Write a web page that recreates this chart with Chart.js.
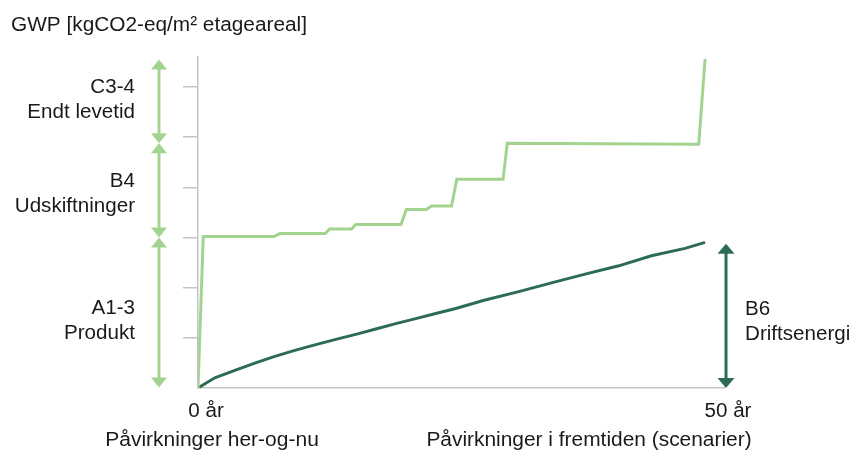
<!DOCTYPE html>
<html><head><meta charset="utf-8">
<script src="https://cdn.jsdelivr.net/npm/chart.js@4"></script>
<style>html,body{margin:0;padding:0;background:#fff}canvas{display:block}</style>
</head><body>
<canvas id="c" width="853" height="450"></canvas>
<script>
// ---- data (years on x, GWP on y) ----
const embodiedYears = [0, 0.5, 7.2, 7.8, 12.1, 12.5, 14.6, 15.0, 19.3, 19.8, 21.7, 22.2, 24.1, 24.6, 29.0, 29.4, 47.6, 48.2];
const embodiedGWP   = [0, 151, 151, 154, 154, 158.5, 158.5, 163, 163, 178, 178, 181.5, 181.5, 208, 208, 244, 243, 328];
const operationalYears = [0, 1.6, 3.5, 5.4, 7.3, 9.2, 11.2, 13.1, 15.0, 16.9, 18.8, 20.7, 22.6, 24.5, 27.2, 30.4, 33.6, 36.8, 40.0, 43.1, 46.3, 48.2];
const operationalGWP   = [0, 10.2, 17.5, 24.8, 31.5, 37.5, 43.2, 48.5, 53.5, 58.8, 64.2, 69.2, 74.2, 79.2, 87.5, 95.8, 104.8, 113.5, 121.8, 131.8, 139.2, 145.2];
const yTickValues = [50, 100, 150, 200, 250, 300];
const xTickLabels = ["0 år", "50 år"];
const titleText = "GWP [kgCO2-eq/m² etageareal]";
const phaseLabels = [["C3-4", "Endt levetid"], ["B4", "Udskiftninger"], ["A1-3", "Produkt"]];
const phaseBounds = [[327.5, 244], [244, 150], [150, 0.5]];
const operationalLabel = ["B6", "Driftsenergi"];
const bottomLabels = ["Påvirkninger her-og-nu", "Påvirkninger i fremtiden (scenarier)"];

const LIGHT = "rgb(163,212,143)";
const DARK = "rgb(44,107,84)";
const AXIS = "#c4c4c4";
const TEXT = "#1a1a1a";
const FONT = "20px 'Liberation Sans', Arial, sans-serif";
const SX = 1.03;

function arrow(ctx, x, yTop, yBot, color, hw, hh, lw) {
  ctx.save();
  ctx.strokeStyle = color; ctx.fillStyle = color; ctx.lineWidth = lw;
  ctx.beginPath(); ctx.moveTo(x, yTop + hh - 1); ctx.lineTo(x, yBot - hh + 1); ctx.stroke();
  ctx.beginPath(); ctx.moveTo(x, yTop); ctx.lineTo(x - hw / 2, yTop + hh); ctx.lineTo(x + hw / 2, yTop + hh); ctx.closePath(); ctx.fill();
  ctx.beginPath(); ctx.moveTo(x, yBot); ctx.lineTo(x - hw / 2, yBot - hh); ctx.lineTo(x + hw / 2, yBot - hh); ctx.closePath(); ctx.fill();
  ctx.restore();
}

function text(ctx, s, x, y, align, font, sx) {
  ctx.save();
  ctx.font = font; ctx.textAlign = align; ctx.textBaseline = 'alphabetic'; ctx.fillStyle = TEXT;
  ctx.translate(x, y); ctx.scale(sx, 1);
  ctx.fillText(s, 0, 0);
  ctx.restore();
}

const annotations = {
  id: 'annotations',
  afterDraw(chart) {
    const ctx = chart.ctx, xs = chart.scales.x, ys = chart.scales.y;
    text(ctx, titleText, 11, 31, 'left', "20px 'Liberation Sans', Arial, sans-serif", 1.04);
    // left phase arrows
    phaseBounds.forEach((b) => {
      arrow(ctx, 159, ys.getPixelForValue(b[0]), ys.getPixelForValue(b[1]), LIGHT, 16, 10, 3);
    });
    const phaseBase = [93, 187, 314];
    phaseLabels.forEach((lines, i) => {
      text(ctx, lines[0], 135, phaseBase[i], 'right', FONT, SX);
      text(ctx, lines[1], 135, phaseBase[i] + 25, 'right', FONT, SX);
    });
    // right operational arrow
    arrow(ctx, 726, ys.getPixelForValue(operationalGWP[operationalGWP.length - 1]) + 1.5, ys.getPixelForValue(0), DARK, 17, 10, 3);
    text(ctx, operationalLabel[0], 745, 315, 'left', FONT, SX);
    text(ctx, operationalLabel[1], 745, 340, 'left', FONT, SX);
    // x labels
    text(ctx, xTickLabels[0], xs.getPixelForValue(0) + 8, 417, 'center', FONT, SX);
    text(ctx, xTickLabels[1], xs.getPixelForValue(50) + 4, 417, 'center', FONT, SX);
    text(ctx, bottomLabels[0], 212, 446, 'center', FONT, 1.05);
    text(ctx, bottomLabels[1], 589, 446, 'center', FONT, 1.045);
  }
};

new Chart(document.getElementById('c'), {
  type: 'line',
  data: {
    datasets: [
      { data: embodiedYears.map((x, i) => ({ x, y: embodiedGWP[i] })), borderColor: LIGHT, borderWidth: 3, pointRadius: 0, tension: 0, fill: false },
      { data: operationalYears.map((x, i) => ({ x, y: operationalGWP[i] })), borderColor: DARK, borderWidth: 3, pointRadius: 0, tension: 0, fill: false }
    ]
  },
  options: {
    responsive: false,
    animation: false,
    events: [],
    layout: { padding: { left: 183, right: 129, top: 57, bottom: 62 } },
    plugins: { legend: { display: false }, tooltip: { enabled: false } },
    scales: {
      x: {
        type: 'linear', min: 0, max: 50,
        grid: { display: false, drawTicks: false },
        ticks: { display: false },
        border: { display: true, color: AXIS, width: 1.5 }
      },
      y: {
        type: 'linear', min: 0, max: 330,
        afterBuildTicks: (axis) => { axis.ticks = yTickValues.map(v => ({ value: v })); },
        grid: { display: true, drawOnChartArea: false, drawTicks: true, tickLength: 15, color: AXIS, lineWidth: 1.5 },
        ticks: { display: false },
        border: { display: true, color: AXIS, width: 1.5 }
      }
    }
  },
  plugins: [annotations]
});
</script>
</body></html>
